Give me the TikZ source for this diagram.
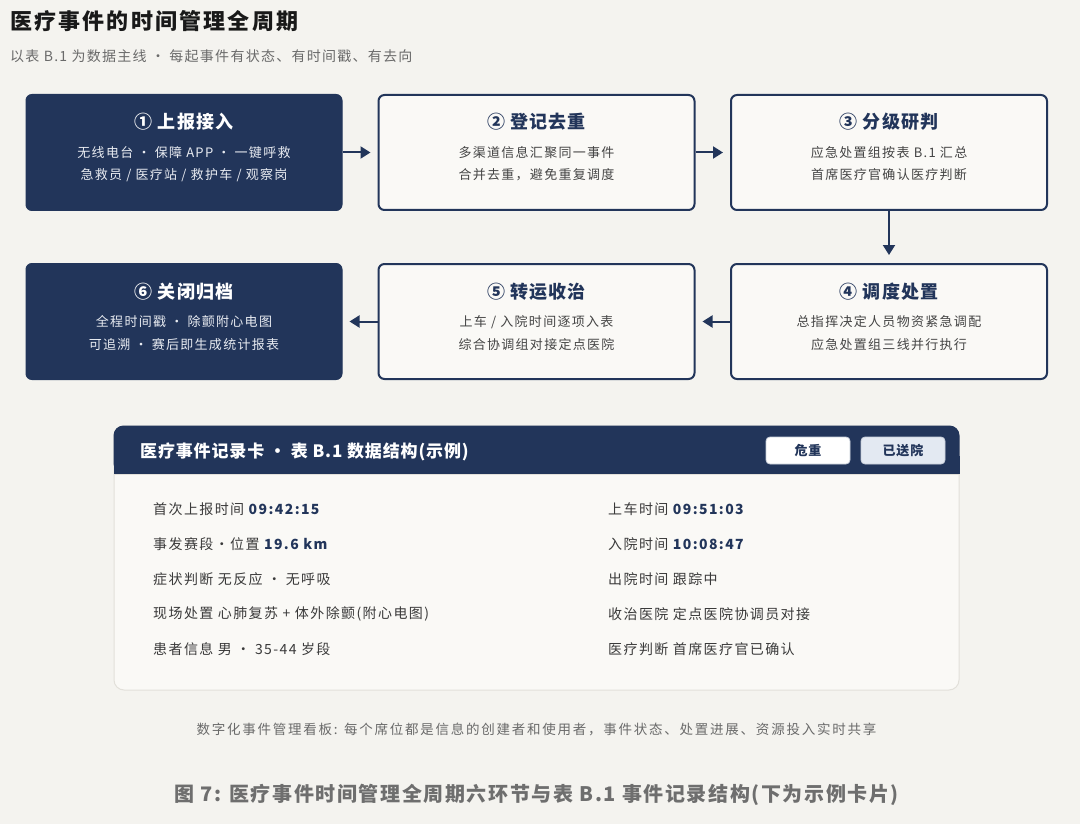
\documentclass[tikz,border=0pt]{standalone}
\usepackage{fontspec}
\setmainfont{Noto Sans CJK SC}
\usetikzlibrary{arrows.meta,calc}
\definecolor{navy}{HTML}{22355A}
\definecolor{bg}{HTML}{F4F3EF}
\definecolor{boxfill}{HTML}{FAF9F6}
\definecolor{bodygray}{HTML}{444444}
\definecolor{lightwhite}{HTML}{E8EBF1}
\definecolor{cardline}{HTML}{E2E0DA}
\definecolor{badgeblue}{HTML}{E3E9F2}
\definecolor{badgeline}{HTML}{C9CFDA}
\definecolor{subgray}{HTML}{6A6A6A}
\definecolor{captgray}{HTML}{6E6E6E}
\definecolor{rowgray}{HTML}{3A3A3A}
\newcommand\fsz[2]{\fontsize{#1}{#2}\selectfont}
\newcommand\trk[1]{\addfontfeatures{LetterSpace=#1}}
\begin{document}
\begin{tikzpicture}[x=1pt,y=-1pt,
  darkbox/.style={draw=navy, fill=navy, rounded corners=6pt, line width=1pt,
    minimum width=316pt, minimum height=116pt, inner sep=0pt},
  lightbox/.style={draw=navy, fill=boxfill, rounded corners=6pt, line width=2pt,
    minimum width=316pt, minimum height=115pt, inner sep=0pt},
  btitle/.style={font=\fsz{18}{21}\bfseries\trk{6}},
  bline/.style={font=\fsz{13}{16}\trk{10}, text=bodygray},
  dline/.style={font=\fsz{13}{16}\trk{10}, text=lightwhite},
  flow/.style={draw=navy, line width=2pt, -{Triangle[length=10pt,width=12pt]}},
  card/.style={draw=cardline, fill=boxfill, rounded corners=10pt, line width=1pt,
    minimum width=845pt, minimum height=264pt, inner sep=0pt},
  badge/.style={draw=badgeline, rounded corners=4pt, line width=0.8pt,
    minimum width=84pt, minimum height=27pt, inner sep=0pt,
    font=\fsz{13}{15}\bfseries\trk{6}, text=navy},
  row/.style={anchor=west, font=\fsz{14}{17}\trk{10}, text=rowgray, inner sep=0pt},
]
\useasboundingbox (0,0) rectangle (1080,824);
\fill[bg] (0,0) rectangle (1080,824);

% heading
\node[anchor=west, inner sep=0pt, font=\fsz{22}{26}\bfseries\trk{10}, text=black!90] (title) at (10,21) {医疗事件的时间管理全周期};
\node[anchor=west, inner sep=0pt, font=\fsz{14}{17}\trk{9}, text=subgray] (subtitle) at (10,56) {以表 B.1 为数据主线 · 每起事件有状态、有时间戳、有去向};

% stage boxes
\node[darkbox] (b1) at (184,152.5) {};
\node[lightbox] (b2) at (536.5,152.5) {};
\node[lightbox] (b3) at (889,152.5) {};
\node[lightbox] (b4) at (889,321.5) {};
\node[lightbox] (b5) at (536.5,321.5) {};
\node[darkbox] (b6) at (184,321.5) {};

% box texts
\node[btitle, text=white] (t1) at (184,122) {① 上报接入};
\node[dline] (l1a) at (184,153) {无线电台 · 保障 APP · 一键呼救};
\node[dline] (l1b) at (184,175) {急救员 / 医疗站 / 救护车 / 观察岗};

\node[btitle, text=navy] (t2) at (536.5,122) {② 登记去重};
\node[bline] (l2a) at (536.5,153) {多渠道信息汇聚同一事件};
\node[bline] (l2b) at (536.5,175) {合并去重，避免重复调度};

\node[btitle, text=navy] (t3) at (889,122) {③ 分级研判};
\node[bline] (l3a) at (889,153) {应急处置组按表 B.1 汇总};
\node[bline] (l3b) at (889,175) {首席医疗官确认医疗判断};

\node[btitle, text=navy] (t4) at (889,292) {④ 调度处置};
\node[bline] (l4a) at (889,322) {总指挥决定人员物资紧急调配};
\node[bline] (l4b) at (889,345) {应急处置组三线并行执行};

\node[btitle, text=navy] (t5) at (536.5,292) {⑤ 转运收治};
\node[bline] (l5a) at (536.5,322) {上车 / 入院时间逐项入表};
\node[bline] (l5b) at (536.5,345) {综合协调组对接定点医院};

\node[btitle, text=white] (t6) at (184,292) {⑥ 关闭归档};
\node[dline] (l6a) at (184,322) {全程时间戳 · 除颤附心电图};
\node[dline] (l6b) at (184,345) {可追溯 · 赛后即生成统计报表};

% connectors
\draw[flow, shorten >=7pt] (b1.east) -- (b2.west);
\draw[flow, shorten >=7pt] (b2.east) -- (b3.west);
\draw[flow, shorten >=8pt] (b3.south) -- (b4.north);
\draw[flow, shorten >=7pt] (b4.west) -- (b5.east);
\draw[flow, shorten >=7pt] (b5.west) -- (b6.east);

% record card
\node[card] (card) at (536.5,558) {};
\fill[navy, rounded corners=10pt] (card.north west) rectangle ($(card.north east)+(0,48)$);
\fill[navy] ($(card.north west)+(0,30)$) rectangle ($(card.north east)+(0,48)$);
\draw[cardline, line width=1pt] ($(card.north west)+(0,48.5)$) -- ($(card.north east)+(0,48.5)$);
\node[anchor=west, inner sep=0pt, font=\fsz{17}{20}\bfseries\trk{5}, text=white] (cardtitle) at (140,452) {医疗事件记录卡 · 表 B.1 数据结构(示例)};
\node[badge, fill=white] (badge1) at (808,450.5) {危重};
\node[badge, fill=badgeblue] (badge2) at (903,450.5) {已送院};

\node[row] (r1) at (153,509) {首次上报时间 {\color{navy}\bfseries 09:42:15}};
\node[row] (r2) at (153,544) {事发赛段·位置 {\color{navy}\bfseries 19.6 km}};
\node[row] (r3) at (153,579) {症状判断 无反应 · 无呼吸};
\node[row] (r4) at (153,614) {现场处置 心肺复苏 + 体外除颤(附心电图)};
\node[row] (r5) at (153,649) {患者信息 男 · 35-44 岁段};

\node[row] (s1) at (608,509) {上车时间 {\color{navy}\bfseries 09:51:03}};
\node[row] (s2) at (608,544) {入院时间 {\color{navy}\bfseries 10:08:47}};
\node[row] (s3) at (608,579) {出院时间 跟踪中};
\node[row] (s4) at (608,614) {收治医院 定点医院协调员对接};
\node[row] (s5) at (608,649) {医疗判断 首席医疗官已确认};

% footer
\node[inner sep=0pt, font=\fsz{13.5}{16}\trk{13}, text=subgray] (note) at (536.5,729) {数字化事件管理看板: 每个席位都是信息的创建者和使用者，事件状态、处置进展、资源投入实时共享};
\node[inner sep=0pt, font=\fsz{20}{23}\bfseries\trk{8}, text=captgray] (caption) at (536.5,795) {图 7: 医疗事件时间管理全周期六环节与表 B.1 事件记录结构(下为示例卡片)};
\end{tikzpicture}
\end{document}
